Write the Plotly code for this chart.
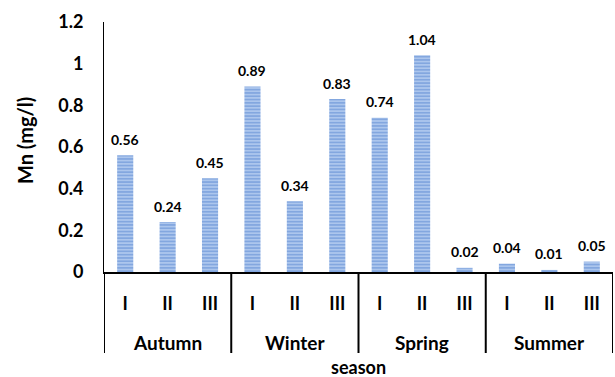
import plotly.graph_objects as go

seasons = ["Autumn", "Winter", "Spring", "Summer"]
sites = ["I", "II", "III"]
values = [0.56, 0.24, 0.45, 0.89, 0.34, 0.83, 0.74, 1.04, 0.02, 0.04, 0.01, 0.05]
labels = ["0.56", "0.24", "0.45", "0.89", "0.34", "0.83", "0.74", "1.04", "0.02", "0.04", "0.01", "0.05"]
y_ticks = [0, 0.2, 0.4, 0.6, 0.8, 1.0, 1.2]
y_ticktext = ["0", "0.2", "0.4", "0.6", "0.8", "1", "1.2"]

FONT = "Lato"
n = len(values)
xpos = list(range(n))
ticktext = [s for _ in seasons for s in sites]

fig = go.Figure()
fig.add_trace(go.Bar(
    x=xpos, y=values, width=0.38,
    marker=dict(color="#a9c4ec", line=dict(width=0),
                pattern=dict(shape="-", fgcolor="#5686cf", bgcolor="#b0c9ee", size=3.3, solidity=0.55)),
    hoverinfo="skip",
))

shapes = []
for k in range(len(seasons) + 1):
    xb = k * len(sites) - 0.5
    shapes.append(dict(type="line", xref="x", yref="paper", x0=xb, x1=xb, y0=0, y1=-0.324,
                       line=dict(color="#000000", width=2)))

annotations = []
for xi, v, lab in zip(xpos, values, labels):
    annotations.append(dict(text="<b>%s</b>" % lab, xref="x", yref="y", x=xi, y=v, yshift=16,
                            showarrow=False, font=dict(family=FONT, size=14, color="#000000"),
                            xanchor="center", yanchor="middle"))
for k, s in enumerate(seasons):
    annotations.append(dict(text="<b>%s</b>" % s, xref="x", yref="paper", x=k * len(sites) + 1, y=-0.28,
                            showarrow=False, font=dict(family=FONT, size=19, color="#000000"),
                            xanchor="center", yanchor="middle"))
annotations.append(dict(text="<b>season</b>", xref="paper", yref="paper", x=0.5, y=-0.38,
                        showarrow=False, font=dict(family=FONT, size=18, color="#000000"),
                        xanchor="center", yanchor="middle"))
annotations.append(dict(text="<b>Mn (mg/l)</b>", xref="paper", yref="paper", x=-0.155, y=0.524,
                        textangle=-90, showarrow=False, font=dict(family=FONT, size=20, color="#000000"),
                        xanchor="center", yanchor="middle"))

fig.update_layout(
    width=615, height=377,
    margin=dict(l=104, r=2, t=22, b=105),
    paper_bgcolor="white", plot_bgcolor="white",
    showlegend=False,
    shapes=shapes, annotations=annotations,
    xaxis=dict(range=[-0.5, n - 0.5], tickvals=xpos, ticktext=["<b>%s</b>" % t for t in ticktext],
               tickfont=dict(family=FONT, size=18, color="#000000"),
               showline=True, linecolor="#000000", linewidth=2, ticks="", ticklabelstandoff=14,
               showgrid=False, zeroline=False),
    yaxis=dict(range=[0, 1.2], tickvals=y_ticks, ticktext=["<b>%s</b>" % t for t in y_ticktext],
               tickfont=dict(family=FONT, size=18, color="#000000"),
               showline=True, linecolor="#000000", linewidth=1, ticks="", ticklabelstandoff=16,
               showgrid=False, zeroline=False),
)

fig.write_html("out.html", config={"displayModeBar": False},
               post_script="document.body.style.margin='0';document.body.style.overflow='hidden';")
